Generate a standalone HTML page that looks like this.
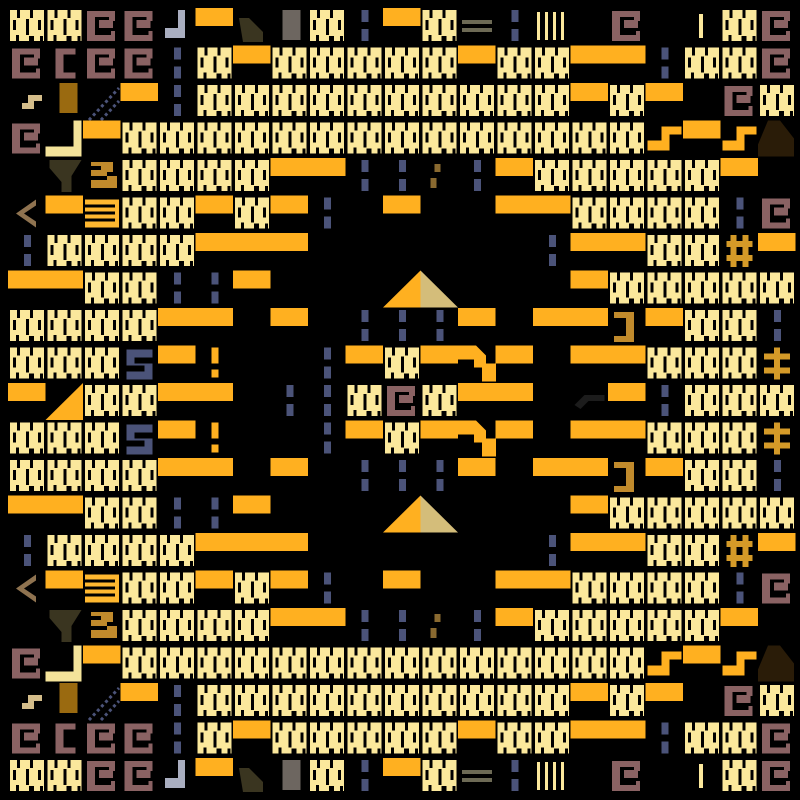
<!DOCTYPE html>
<html><head><meta charset="utf-8"><style>html,body{margin:0;padding:0;background:#000;width:800px;height:800px;overflow:hidden}</style></head>
<body>
<svg id="s" width="800" height="800" viewBox="0 0 800 800" xmlns="http://www.w3.org/2000/svg">
<rect width="800" height="800" fill="#000"/>
<defs>
<g id="W"><path fill="#fbe89c" d="M2 2h34v31h-34z"/><path fill="#000" d="M9 2h3v8h-3zM22 2h3v8h-3zM18 11h3v16h-3zM5 12h3v10h-3zM30 12h3v10h-3zM8 27h3v6h-3zM21 28h5v5h-5zM32 28h3v5h-3z"/></g>
<rect id="O" x="0" y="0" width="37.5" height="18" fill="#ffb020"/>
<g id="B" fill="#4b5379"><rect x="16" y="2" width="7" height="12"/><rect x="16" y="21" width="7" height="12"/></g>
<g id="e"><path fill="#8a6263" d="M4 3h28v10h-6v-4h-14v18h16v-4h4v10h-28z"/><path fill="#8a6263" d="M16 12h14v8h-14z"/></g>
<g id="["><path fill="#8a6263" d="M10 3h20v6h-12v18h12v6h-20z"/></g>
<g id="n"><path fill="#a9aec0" d="M20 2h7v28h-20v-10h13z"/></g>
<g id="d"><path fill="#3a3520" d="M6 10h10l14 14v10h-20z"/></g>
<g id="g"><path fill="#6d6660" d="M12 2h18v30h-18z"/></g>
<g id="="><rect x="4" y="12" width="30" height="4" fill="#6d6a55"/><rect x="4" y="20" width="30" height="4" fill="#6d6a55"/></g>
<g id="|" fill="#fbe89c"><rect x="4" y="4" width="3" height="28"/><rect x="12" y="4" width="3" height="28"/><rect x="20" y="4" width="3" height="28"/><rect x="28" y="4" width="3" height="28"/></g>
<g id="i"><rect x="16" y="6" width="4" height="24" fill="#fbe89c"/></g>
<g id="h"><path fill="#d4bd8a" d="M14 20h6v-8h14v6h-8v8h-12z"/></g>
<g id="k"><path fill="#9a6a10" d="M14 0h18v30h-18z"/></g>
<g id="/"><path stroke="#4b5379" stroke-width="3" stroke-dasharray="3 3" fill="none" d="M6 37L36 5M18 37L36 18"/></g>
<g id="L"><path fill="#f4e39a" d="M28 0h8v36h-36v-10h28z"/></g>
<g id="m"><path fill="#ffb020" d="M2 20h14v-14h20v8h-12v16h-22z"/></g>
<g id="t"><path fill="#2a1c08" d="M10 0h12l14 18v18h-36v-12z"/></g>
<g id="V"><path fill="#3a3520" d="M4 2h32l-10 16v16h-10v-10l-12-14z"/></g>
<g id="3"><path fill="#c08a2c" d="M8 4h22v10h-6v4h10v12h-26v-8h16v-4h-16v-6h10v-4h-10z"/></g>
<g id="&lt;"><path fill="#8f7350" d="M28 4l-20 14 20 14v-6l-12-8 12-8z"/></g>
<g id="≡"><path fill="#ffb830" d="M2 4h34v28h-34zM2 9h30v3h-30zM2 16h30v3h-30zM2 23h30v3h-30z" fill-rule="evenodd"/></g>
<g id="#"><path fill="#d49a28" d="M6 8h26v6h-26zM6 22h26v6h-26zM10 2h6v32h-6zM22 2h6v32h-6z"/></g>
<g id="s"><path fill="#111116" d="M8 10h20v22h-20zM14 16h8v10h-8z" fill-rule="evenodd"/></g>
<g id="T"><path fill="#ffb020" d="M37.5 0v37h-37.5z"/></g>
<g id="t2"><path fill="#d4bd7a" d="M0 0v37h37.5z"/></g>
<g id="S"><path fill="#4b5379" d="M6 4h26v8h-18v6h18v16h-26v-8h18v-6h-18z"/></g>
<g id="!"><rect x="16" y="2" width="7" height="16" fill="#ffb020"/><rect x="16" y="24" width="7" height="8" fill="#ffb020"/></g>
<g id=";"><rect x="14" y="6" width="6" height="8" fill="#8a6a30"/><rect x="10" y="20" width="6" height="10" fill="#8a6a30"/></g>
<g id="]"><path fill="#c08a2c" d="M6 4h20v30h-20v-6h12v-18h-12z"/></g>
<g id="j"><path fill="#ffb020" d="M0 0h18l10 10v8h10v18h-14v-14h-8v-8h-16z"/></g>
<g id="c"><path fill="#d49a28" d="M6 8h26v6h-26zM6 22h26v6h-26zM16 2h6v32h-6z"/></g>
<g id="a"><path fill="#1c1c1c" d="M4 22l10-10h20v6h-16l-8 8z"/></g>
</defs>
<g id="grid"></g>
</svg>
<script>
var rows=[
"W W e e n O d g W B O W = B | . e . i W e",
"e [ e e B W O W W W W W O W W O O B W W e",
"h k / O B W W W W W W W W W W O W O . e W",
"e L O W W W W W W W W W W W W W W m O m t",
". V 3 W W W W O O B B ; B O W W W W W O .",
"< O ≡ W W O W O B . O . . O O W W W W B e",
"B W W W W O O O . . . . . . B O O W W # O",
"O O W W B B O . . s T t2 . . . O W W W W W",
"W W W W O O . O . B B B O . O O ] O W W B",
"W W W S O ! . . B O W O j O . O O W W W c",
"O T W W O O . B B W e W O O . a O B W W W"];
var all=rows.concat(rows.slice(0,10).reverse());
var g=document.getElementById('grid'),h="";
for(var r=0;r<21;r++){var c=all[r].split(' ');
for(var i=0;i<21;i++){var k=c[i];if(k=='.')continue;
var x=(8+37.5*i).toFixed(1),y=(8+37.5*r).toFixed(1);
var kk=k=='<'?'&lt;':k;
h+='<use href="#'+kk+'" x="'+x+'" y="'+y+'"/>';}}
g.innerHTML=h;
</script>
</body></html>
